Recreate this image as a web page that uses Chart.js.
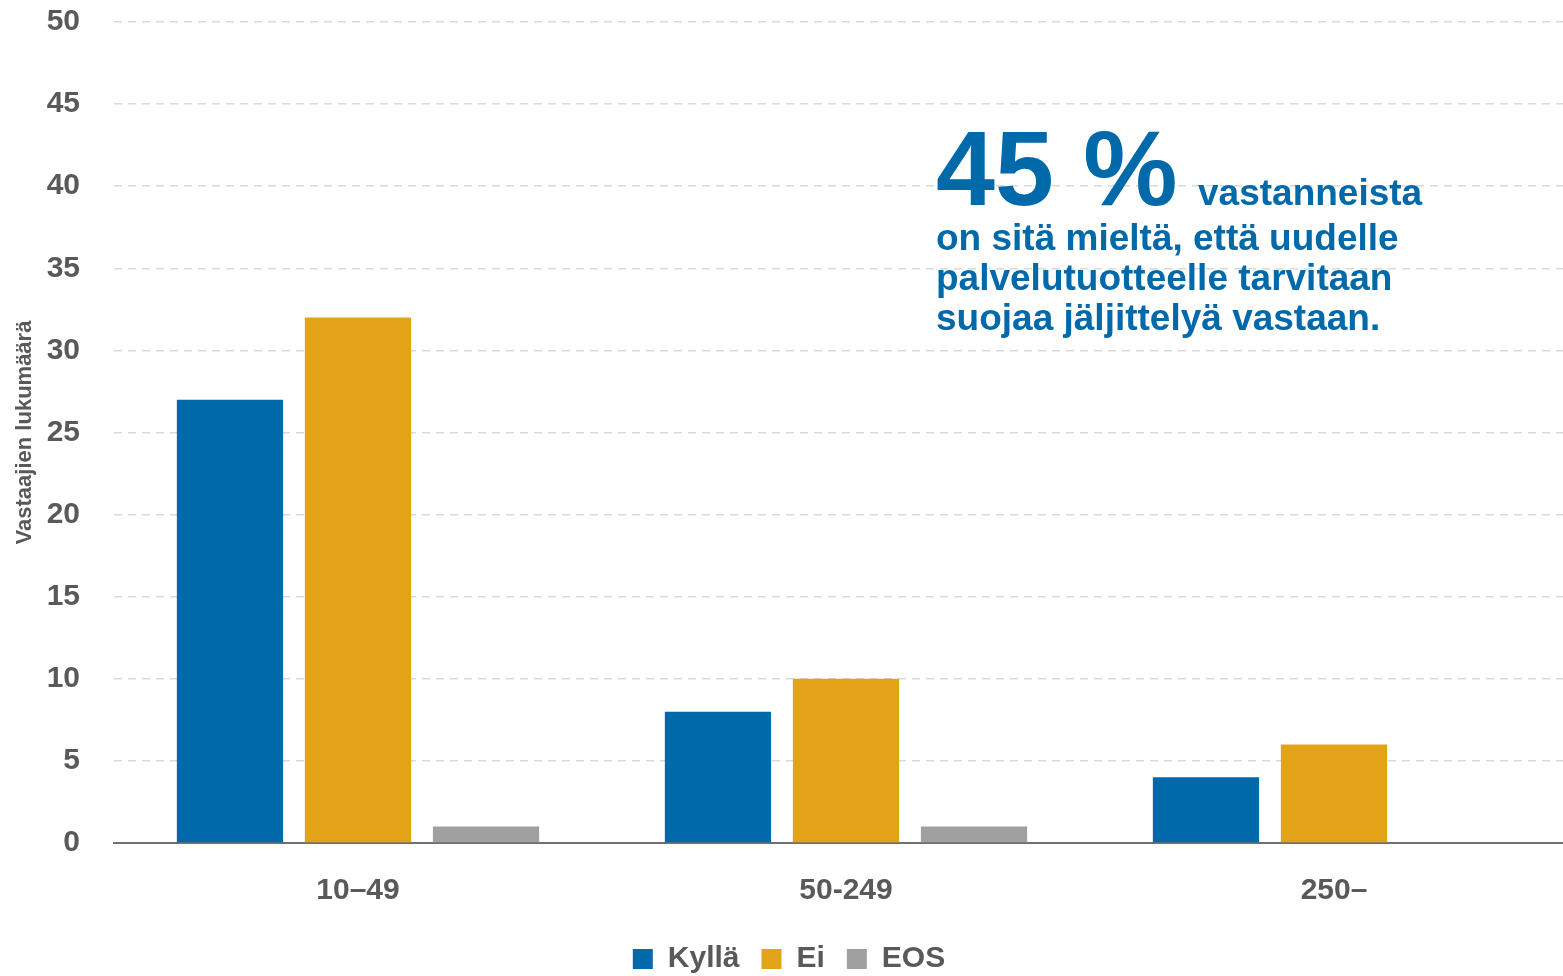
<!DOCTYPE html>
<html>
<head>
<meta charset="utf-8">
<script src="https://cdn.jsdelivr.net/npm/chart.js@4/dist/chart.umd.min.js"></script>
<style>
html, body { margin: 0; padding: 0; overflow: hidden; background: #fff; }
#wrap { position: absolute; left: 0; top: 0; width: 1580px; height: 1000px; }
</style>
</head>
<body>
<div id="wrap"><canvas id="chart"></canvas></div>
<script>
const labelsList = ['10–49', '50-249', '250–'];
const kyllaList = [27, 8, 4];
const eiList = [32, 10, 6];
const eosList = [1, 1, 0];
const yTitle = 'Vastaajien lukumäärä';
const noteBig = '45 %';
const noteLines = ['vastanneista', 'on sitä mieltä, että uudelle', 'palvelutuotteelle tarvitaan', 'suojaa jäljittelyä vastaan.'];

const fontFam = '"Liberation Sans", Arial, sans-serif';
const textGray = '#595959';

// iso teksti oikeassa yläkulmassa
const notePlugin = {
    id: 'note',
    afterDraw(chart) {
        const ctx = chart.ctx;
        ctx.save();
        ctx.fillStyle = '#0069aa';
        ctx.textBaseline = 'alphabetic';
        ctx.textAlign = 'left';
        ctx.font = 'bold 106px ' + fontFam;
        ctx.fillText(noteBig, 936, 205);
        ctx.font = 'bold 37px ' + fontFam;
        ctx.fillText(noteLines[0], 1198, 205);
        ctx.fillText(noteLines[1], 936, 250);
        ctx.fillText(noteLines[2], 936, 290);
        ctx.fillText(noteLines[3], 936, 330);
        ctx.restore();
    }
};

new Chart(document.getElementById('chart'), {
    type: 'bar',
    data: {
        labels: labelsList,
        datasets: [
            { label: 'Kyllä', data: kyllaList, backgroundColor: '#0069aa' },
            { label: 'Ei', data: eiList, backgroundColor: '#e2a319' },
            { label: 'EOS', data: eosList, backgroundColor: '#a0a0a0' },
        ],
    },
    options: {
        responsive: true,
        maintainAspectRatio: false,
        animation: false,
        datasets: {
            bar: { barPercentage: 0.83, categoryPercentage: 0.787 },
        },
        layout: { padding: { top: 22, right: 2, bottom: 16 } },
        scales: {
            x: {
                afterFit(scale) { scale.height = 79; },
                grid: { display: false },
                border: { display: true, color: '#707070', width: 2 },
                ticks: {
                    color: textGray,
                    font: { family: fontFam, size: 30, weight: 'bold' },
                    padding: 22,
                },
            },
            y: {
                min: 0,
                max: 50,
                afterFit(scale) {
                    scale.width = 114;
                    scale.paddingTop = 0;
                    scale.paddingBottom = 0;
                },
                grid: { color: '#d9d9d9', lineWidth: 1.5, drawTicks: false },
                border: { display: false, dash: [8, 6] },
                ticks: {
                    stepSize: 5,
                    color: textGray,
                    font: { family: fontFam, size: 30, weight: 'bold' },
                    padding: 34,
                },
                title: {
                    display: true,
                    text: yTitle,
                    color: textGray,
                    font: { family: fontFam, size: 22, weight: 'bold' },
                    padding: { top: 12, bottom: 0 },
                },
            },
        },
        plugins: {
            legend: {
                position: 'bottom',
                labels: {
                    color: textGray,
                    boxWidth: 20,
                    boxHeight: 20,
                    padding: 22,
                    font: { family: fontFam, size: 30, weight: 'bold' },
                },
            },
            tooltip: { enabled: false },
        },
    },
    plugins: [notePlugin],
});
</script>
</body>
</html>
